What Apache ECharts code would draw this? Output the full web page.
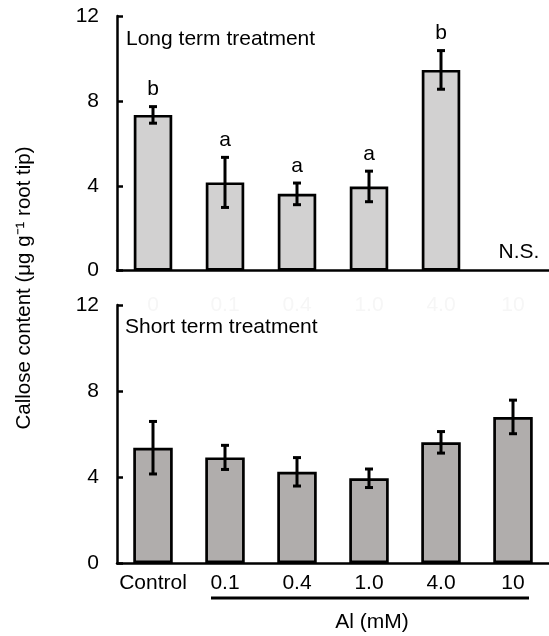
<!DOCTYPE html>
<html>
<head>
<meta charset="utf-8">
<script src="https://cdn.jsdelivr.net/npm/echarts@6/dist/echarts.min.js"></script>
<style>
html,body{margin:0;padding:0;background:#fff;}
#c{width:549px;height:636px;}
</style>
</head>
<body>
<div id="c"></div>
<script>
const categories = ['Control', '0.1', '0.4', '1.0', '4.0', '10'];
const ghostLabels = ['0', '0.1', '0.4', '1.0', '4.0', '10'];
const longMean = [7.34, 4.16, 3.62, 3.97, 9.46, null];
const longErr = [0.39, 1.18, 0.51, 0.72, 0.91, null];
const longLetters = ['b', 'a', 'a', 'a', 'b', 'N.S.'];
const shortMean = [5.37, 4.92, 4.25, 3.95, 5.62, 6.80];
const shortErr = [1.22, 0.56, 0.66, 0.43, 0.50, 0.78];
const yMin = 0, yMax = 12, yStep = 4;

const FONT = '"Liberation Sans", Arial, Helvetica, sans-serif';
const FS = 21;
const chart = echarts.init(document.getElementById('c'), null, {renderer: 'canvas'});

function errRender(means, errs, letters) {
  return function (params, api) {
    const i = api.value(0);
    const m = means[i];
    const children = [];
    if (m == null) {
      const p = api.coord([i, 0]);
      if (letters && letters[i]) {
        children.push({type: 'text', style: {x: p[0] + 6, y: p[1] - 18, text: letters[i], fill: '#000',
          font: FS + 'px ' + FONT, textAlign: 'center', textVerticalAlign: 'middle'}});
      }
      return {type: 'group', children: children};
    }
    const e = errs[i];
    const top = api.coord([i, m + e]);
    const bot = api.coord([i, m - e]);
    const x = top[0];
    const cap = 4;
    const st = {stroke: '#000', lineWidth: 3};
    children.push({type: 'line', shape: {x1: x, y1: top[1], x2: x, y2: bot[1]}, style: st});
    children.push({type: 'line', shape: {x1: x - cap, y1: top[1], x2: x + cap, y2: top[1]}, style: st});
    children.push({type: 'line', shape: {x1: x - cap, y1: bot[1], x2: x + cap, y2: bot[1]}, style: st});
    if (letters && letters[i]) {
      children.push({type: 'text', style: {x: x, y: top[1] - 17, text: letters[i], fill: '#000',
        font: FS + 'px ' + FONT, textAlign: 'center', textVerticalAlign: 'middle'}});
    }
    return {type: 'group', children: children};
  };
}

const axisLineStyle = {color: '#000', width: 2.5};

function yAxisCfg(gi) {
  return {
    type: 'value', gridIndex: gi, min: yMin, max: yMax, interval: yStep,
    axisLine: {show: true, lineStyle: axisLineStyle},
    axisTick: {show: true, inside: true, length: 6, lineStyle: axisLineStyle},
    splitLine: {show: false},
    axisLabel: {fontSize: FS, color: '#000', fontFamily: FONT, margin: 18}
  };
}

const option = {
  backgroundColor: '#fff',
  animation: false,
  title: [
    {text: 'Long term treatment', left: 121, top: 24,
      textStyle: {fontSize: FS, fontWeight: 'normal', color: '#000', fontFamily: FONT}},
    {text: 'Short term treatment', left: 120, top: 312,
      textStyle: {fontSize: FS, fontWeight: 'normal', color: '#000', fontFamily: FONT}}
  ],
  grid: [
    {left: 117, top: 16, width: 437, height: 254.7},
    {left: 117, top: 305, width: 441.5, height: 258.3}
  ],
  xAxis: [
    {type: 'category', gridIndex: 0, data: ghostLabels,
      axisLine: {show: true, lineStyle: axisLineStyle}, axisTick: {show: false},
      axisLabel: {interval: 0, fontSize: FS, color: '#f6f6f6', fontFamily: FONT, margin: 24}},
    {type: 'category', gridIndex: 1, data: categories,
      axisLine: {show: true, lineStyle: axisLineStyle}, axisTick: {show: false},
      axisLabel: {interval: 0, fontSize: FS, color: '#000', fontFamily: FONT, margin: 9}}
  ],
  yAxis: [yAxisCfg(0), yAxisCfg(1)],
  series: [
    {type: 'bar', xAxisIndex: 0, yAxisIndex: 0, data: longMean, barWidth: 38.5,
      itemStyle: {color: '#d2d1d1', borderColor: '#000', borderWidth: 2.7}},
    {type: 'custom', xAxisIndex: 0, yAxisIndex: 0,
      data: longMean.map((m, i) => [i, m == null ? 0 : m]),
      renderItem: errRender(longMean, longErr, longLetters), z: 5},
    {type: 'bar', xAxisIndex: 1, yAxisIndex: 1, data: shortMean, barWidth: 39.5,
      itemStyle: {color: '#b0adac', borderColor: '#000', borderWidth: 2.7}},
    {type: 'custom', xAxisIndex: 1, yAxisIndex: 1,
      data: shortMean.map((m, i) => [i, m]),
      renderItem: errRender(shortMean, shortErr, null), z: 5}
  ]
};
chart.setOption(option);

// decorations: Al bracket line + axis titles
const pA = chart.convertToPixel({xAxisIndex: 1, yAxisIndex: 1}, [1, 0]);
const pB = chart.convertToPixel({xAxisIndex: 1, yAxisIndex: 1}, [5, 0]);
chart.setOption({
  graphic: [
    {type: 'line', shape: {x1: pA[0] - 14, y1: 598, x2: pB[0] + 16, y2: 598},
      style: {stroke: '#000', lineWidth: 3}},
    {type: 'text', x: (pA[0] + pB[0]) / 2 + 3, y: 622,
      style: {text: 'Al (mM)', font: FS + 'px ' + FONT, fill: '#000', textAlign: 'center', textVerticalAlign: 'middle'}},
    {type: 'text', x: 24, y: 288, rotation: Math.PI / 2,
      style: {text: 'Callose content (μg g⁻¹ root tip)', font: '20.5px ' + FONT, fill: '#000',
        textAlign: 'center', textVerticalAlign: 'middle'}}
  ]
});
</script>
</body>
</html>
